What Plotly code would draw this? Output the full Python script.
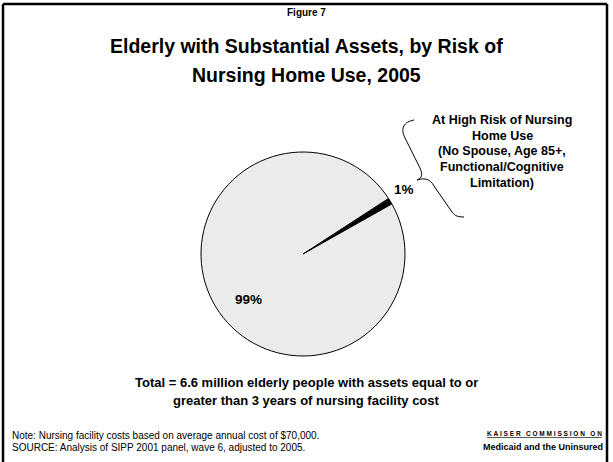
import plotly.graph_objects as go

W, H = 613, 462
labels = ["At High Risk of Nursing Home Use", "Other elderly with substantial assets"]
values = [1, 99]
pct_text = ["1%", "99%"]
colors = ["#000000", "#ebebeb"]

FONT = "Liberation Sans, Arial, sans-serif"

fig = go.Figure()

# pie geometry in px
cx, cy, r = 303, 254, 102
fig.add_trace(go.Pie(
    labels=labels, values=values, sort=False, direction="clockwise", rotation=57,
    marker=dict(colors=colors, line=dict(color="#000000", width=1)),
    textinfo="none", hoverinfo="label+percent", showlegend=False,
    domain=dict(x=[(cx - r) / W, (cx + r) / W], y=[1 - (cy + r) / H, 1 - (cy - r) / H]),
))


def px(x):
    return x / W


def py(y):
    return 1 - y / H


def txt(x, y, s, size, bold=True, anchor="center", family=FONT):
    fig.add_annotation(x=px(x), y=py(y), xref="paper", yref="paper",
                       text=(f"<b>{s}</b>" if bold else s),
                       showarrow=False, xanchor=anchor, yanchor="middle",
                       font=dict(family=family, size=size, color="#000"),
                       align=anchor if anchor != "center" else "center")


# frame (four edges)
for x0, y0, x1, y1 in [(3, 4, 607, 4), (3, 4, 3, 470), (607, 4, 607, 470)]:
    fig.add_shape(type="line", xref="paper", yref="paper", x0=px(x0), y0=py(y0), x1=px(x1), y1=py(y1),
                  line=dict(color="#000", width=2.5))

txt(307, 13, "Figure 7", 10)
txt(307, 46, "Elderly with Substantial Assets, by Risk of", 19.5)
txt(307, 75, "Nursing Home Use, 2005", 19.5)

# slice labels
txt(404, 190, pct_text[0], 13.5)
txt(248, 299, pct_text[1], 13.5)

# callout text
callout = ["At High Risk of Nursing", "Home Use", "(No Spouse, Age 85+,",
           "Functional/Cognitive", "Limitation)"]
for i, line in enumerate(callout):
    txt(502, 120 + i * 15.7, line, 12.5)

# brace
pts = [(414, 120), (404, 122), (400, 128), (405, 138), (420, 168), (423, 175), (422, 178), (417, 180),
       (423, 178), (430, 178), (434, 186), (452, 212), (455, 216), (458, 217), (464, 217)]
P = [f"{px(a):.5f},{py(b):.5f}" for a, b in pts]
path = (f"M {P[0]} C {P[1]} {P[2]} {P[3]} L {P[4]} C {P[5]} {P[6]} {P[7]} "
        f"C {P[8]} {P[9]} {P[10]} L {P[11]} C {P[12]} {P[13]} {P[14]}")
fig.add_shape(type="path", xref="paper", yref="paper", path=path,
              line=dict(color="#000", width=1), fillcolor="rgba(0,0,0,0)")

txt(307, 382, "Total = 6.6 million elderly people with assets equal to or", 13)
txt(307, 400, "greater than 3 years of nursing facility cost", 13)

txt(10, 435, "Note: Nursing facility costs based on average annual cost of $70,000.", 10, bold=False, anchor="left")
txt(10, 447, "SOURCE: Analysis of SIPP 2001 panel, wave 6, adjusted to 2005.", 10, bold=False, anchor="left")

kaiser = "&nbsp;".join("KAISER") + "&nbsp;&nbsp;&nbsp;" + "&nbsp;".join("COMMISSION") + "&nbsp;&nbsp;&nbsp;" + "&nbsp;".join("ON")
txt(604, 433, f"<u>{kaiser}</u>", 6.5, anchor="right")
txt(605, 447, "Medicaid and the Uninsured", 9, anchor="right")

fig.update_layout(width=W, height=H, margin=dict(l=0, r=0, t=0, b=0),
                  paper_bgcolor="white", plot_bgcolor="white")

fig.write_html("out.html")
